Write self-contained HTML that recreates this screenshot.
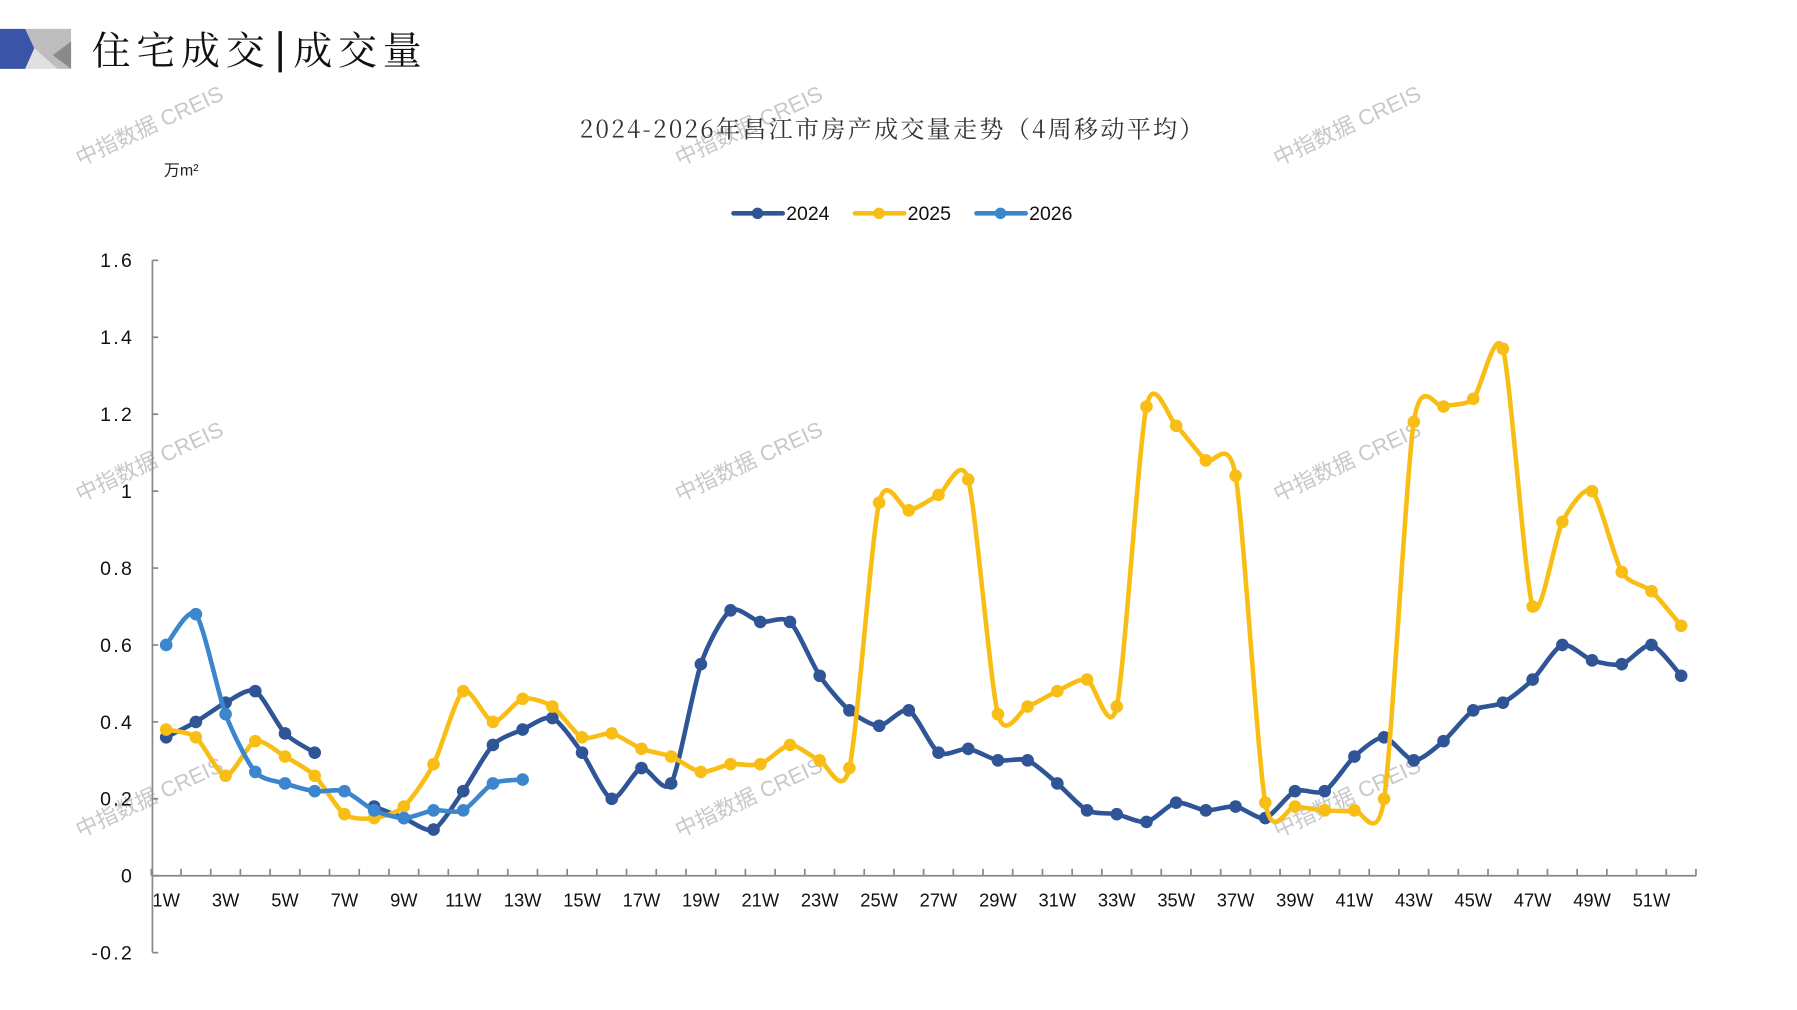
<!DOCTYPE html>
<html><head><meta charset="utf-8"><style>
html,body{margin:0;padding:0;background:#fff;width:1797px;height:1010px;overflow:hidden}
svg{display:block}
</style></head><body>
<svg id="s" width="1797" height="1010" viewBox="0 0 1568 881" xmlns="http://www.w3.org/2000/svg" font-family="Liberation Sans, Noto Sans CJK SC, sans-serif">
<polygon points="0,25 22,25 30,42 22,60 0,60" fill="#3A55A8"/>
<polygon points="22,25 62,25 62,60 50,60 30,42" fill="#BDBDBD"/>
<polygon points="22,60 30,42 50,60" fill="#E0E0E0"/>
<polygon points="62,36 62,60 46,48" fill="#8A8A8A"/>
<text x="80" y="56" font-size="34" letter-spacing="5" font-family="Noto Serif CJK SC, serif" fill="#111">住宅成交</text>
<rect x="243" y="27" width="3" height="36" fill="#111"/>
<text x="256" y="56" font-size="34" letter-spacing="5" font-family="Noto Serif CJK SC, serif" fill="#111">成交量</text>
<g fill="#c8c8c8" font-size="19">
<text transform="translate(70,145) rotate(-25)">中指数据 CREIS</text>
<text transform="translate(593,145) rotate(-25)">中指数据 CREIS</text>
<text transform="translate(1115,145) rotate(-25)">中指数据 CREIS</text>
<text transform="translate(70,438) rotate(-25)">中指数据 CREIS</text>
<text transform="translate(593,438) rotate(-25)">中指数据 CREIS</text>
<text transform="translate(1115,438) rotate(-25)">中指数据 CREIS</text>
<text transform="translate(70,731) rotate(-25)">中指数据 CREIS</text>
<text transform="translate(593,731) rotate(-25)">中指数据 CREIS</text>
<text transform="translate(1115,731) rotate(-25)">中指数据 CREIS</text>
</g>
<text x="779" y="120" text-anchor="middle" font-size="21" letter-spacing="2" font-family="Noto Serif CJK SC, serif" fill="#333">2024-2026年昌江市房产成交量走势（4周移动平均）</text>
<text x="143" y="153" font-size="14" fill="#222">万m²</text>
<g font-size="17" fill="#111">
<line x1="640" y1="186" x2="683" y2="186" stroke="#2F5597" stroke-width="4" stroke-linecap="round"/><circle cx="661" cy="186" r="5" fill="#2F5597"/><text x="686" y="192">2024</text>
<line x1="746" y1="186" x2="789" y2="186" stroke="#F9BE16" stroke-width="4" stroke-linecap="round"/><circle cx="767" cy="186" r="5" fill="#F9BE16"/><text x="792" y="192">2025</text>
<line x1="852" y1="186" x2="895" y2="186" stroke="#3B86CC" stroke-width="4" stroke-linecap="round"/><circle cx="873" cy="186" r="5" fill="#3B86CC"/><text x="898" y="192">2026</text>
</g>
<g id="ax"></g>
<g id="series"></g>
</svg>
<script>
var NS="http://www.w3.org/2000/svg",s=document.getElementById('ax'),g=document.getElementById('series');
function el(p,t,a,txt){var e=document.createElementNS(NS,t);for(var k in a)e.setAttribute(k,a[k]);if(txt)e.textContent=txt;p.appendChild(e);return e;}
function X(w){return 145+(w-1)*25.92;}function Y(v){return 764-v*335.6;}
el(s,'line',{x1:133,y1:227,x2:133,y2:831,stroke:'#888','stroke-width':1.5});
var labs=['1.6','1.4','1.2','1','0.8','0.6','0.4','0.2','0','-0.2'];
for(var i=0;i<10;i++){var v=1.6-0.2*i;var y=Y(v);el(s,'line',{x1:133,y1:y,x2:138,y2:y,stroke:'#888','stroke-width':1.5});
el(s,'text',{x:117,y:y+6,'text-anchor':'end','font-size':17,fill:'#111','letter-spacing':'2'},labs[i]);}
el(s,'line',{x1:133,y1:764,x2:1480,y2:764,stroke:'#888','stroke-width':1.5});
for(var k=0;k<=52;k++){var x=132+k*25.92;el(s,'line',{x1:x,y1:758,x2:x,y2:764,stroke:'#888','stroke-width':1.5});}
for(var w=1;w<=51;w+=2)el(s,'text',{x:X(w),y:791,'text-anchor':'middle','font-size':16,fill:'#111'},w+'W');
function path(pts){var d='M'+pts[0][0]+','+pts[0][1];for(var i=0;i<pts.length-1;i++){var p0=pts[i-1]||pts[i],p1=pts[i],p2=pts[i+1],p3=pts[i+2]||p2;var t=8;
d+=' C'+(p1[0]+(p2[0]-p0[0])/t)+','+(p1[1]+(p2[1]-p0[1])/t)+' '+(p2[0]-(p3[0]-p1[0])/t)+','+(p2[1]-(p3[1]-p1[1])/t)+' '+p2[0]+','+p2[1];}return d;}
function series(data,start,col){var segs=[],cur=[];data.forEach(function(v,i){if(v===null){if(cur.length)segs.push(cur);cur=[];}else cur.push([X(start+i),Y(v)]);});if(cur.length)segs.push(cur);
segs.forEach(function(p){el(g,'path',{d:path(p),fill:'none',stroke:col,'stroke-width':4,'stroke-linejoin':'round'});p.forEach(function(q){el(g,'circle',{cx:q[0],cy:q[1],r:5.5,fill:col});});});}
var d24=[0.36,0.40,0.45,0.48,0.37,0.32,null,0.18,0.15,0.12,0.22,0.34,0.38,0.41,0.32,0.20,0.28,0.24,0.55,0.69,0.66,0.66,0.52,0.43,0.39,0.43,0.32,0.33,0.30,0.30,0.24,0.17,0.16,0.14,0.19,0.17,0.18,0.15,0.22,0.22,0.31,0.36,0.30,0.35,0.43,0.45,0.51,0.60,0.56,0.55,0.60,0.52];
var d25=[0.38,0.36,0.26,0.35,0.31,0.26,0.16,0.15,0.18,0.29,0.48,0.40,0.46,0.44,0.36,0.37,0.33,0.31,0.27,0.29,0.29,0.34,0.30,0.28,0.97,0.95,0.99,1.03,0.42,0.44,0.48,0.51,0.44,1.22,1.17,1.08,1.04,0.19,0.18,0.17,0.17,0.20,1.18,1.22,1.24,1.37,0.70,0.92,1.00,0.79,0.74,0.65];
var d26=[0.60,0.68,0.42,0.27,0.24,0.22,0.22,0.17,0.15,0.17,0.17,0.24,0.25];
series(d24,1,'#2F5597');series(d25,1,'#F9BE16');series(d26,1,'#3B86CC');
</script>
</body></html>
